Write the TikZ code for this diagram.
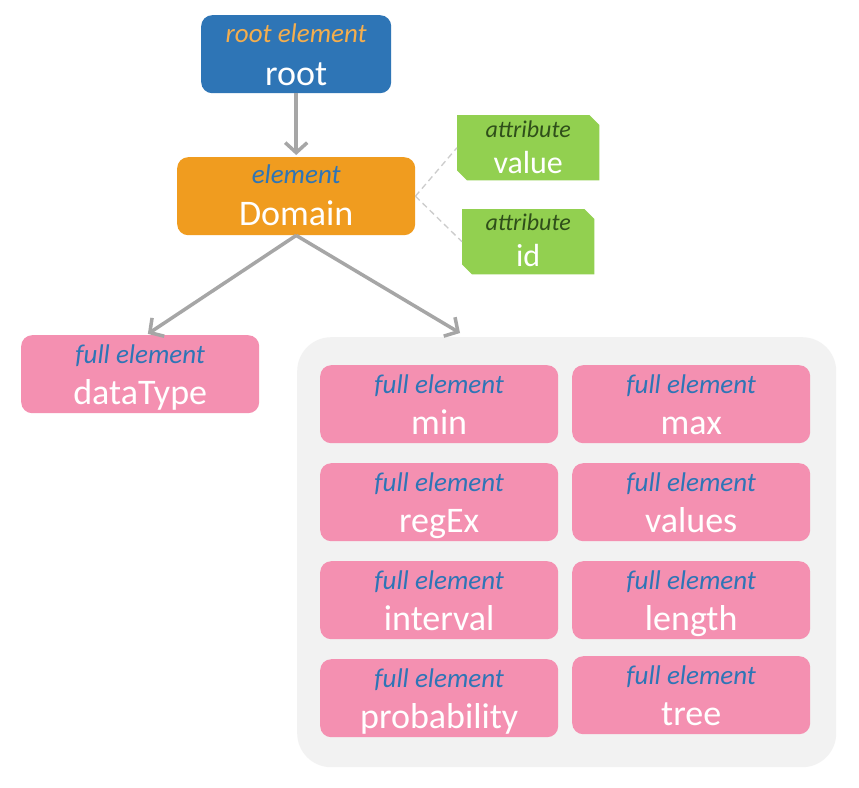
\documentclass[tikz,border=0pt]{standalone}
\usepackage{fontspec}
\setmainfont{Carlito}
\usetikzlibrary{arrows.meta,calc}
\definecolor{rootblue}{HTML}{2E75B6}
\definecolor{domorange}{HTML}{F09C1F}
\definecolor{attrgreen}{HTML}{92D050}
\definecolor{elpink}{HTML}{F490B1}
\definecolor{grpgray}{HTML}{F2F2F2}
\definecolor{arrgray}{HTML}{A6A6A6}
\definecolor{dashgray}{HTML}{CCCCCC}
\definecolor{subblue}{HTML}{2E75B6}
\definecolor{suborange}{HTML}{F4AE4E}
\definecolor{subgreen}{HTML}{2F4F1A}
\tikzset{
  ebox/.style={rounded corners=11pt, inner sep=0pt, anchor=north west, minimum width=238pt, minimum height=78pt},
  abox/.style={inner sep=0pt, minimum height=65pt, anchor=north west},
  subt/.style={font=\fontsize{27}{32}\selectfont\itshape, text=subblue, anchor=base, inner sep=0pt},
  maint/.style={font=\fontsize{36}{42}\selectfont, text=white, anchor=base, inner sep=0pt},
  asub/.style={font=\fontsize{24}{28}\selectfont\itshape, text=subgreen, anchor=base, inner sep=0pt},
  amain/.style={font=\fontsize{32}{38}\selectfont, text=white, anchor=base, inner sep=0pt},
  arr/.style={draw=arrgray, line width=3.5pt, -{Straight Barb[length=10pt,width=22pt,line width=3.5pt]}},
  dashln/.style={draw=dashgray, line width=1.3pt, dash pattern=on 6pt off 4pt}
}
\newcommand\felem[4]{%
  \node[ebox, fill=elpink] (#1) at (#2,#3) {};
  \node[subt] (#1s) at ($(#1.north)+(0,28)$) {full element};
  \node[maint] (#1m) at ($(#1.north)+(0,69)$) {#4};
}
\newcommand\snipfill[1]{%
  \fill[attrgreen] (#1.north west) -- ($(#1.north east)+(-10,0)$) -- ($(#1.north east)+(0,10)$)
    -- (#1.south east) -- ($(#1.south west)+(10,0)$) -- ($(#1.south west)+(0,-10)$) -- cycle;
}
\begin{document}
\begin{tikzpicture}[x=1pt,y=-1pt]
\useasboundingbox[fill=white] (0,0) rectangle (859,787);
% root
\node[ebox, fill=rootblue, minimum width=190pt, minimum height=78pt] (root) at (201,15) {};
\node[subt, text=suborange] (roots) at ($(root.north)+(0,27)$) {root element};
\node[maint] (rootm) at ($(root.north)+(0,70)$) {root};
% domain
\node[ebox, fill=domorange] (dom) at (177,157) {};
\node[subt] (doms) at ($(dom.north)+(0,26)$) {element};
\node[maint] (domm) at ($(dom.north)+(0,68)$) {Domain};
% attributes
\node[abox, minimum width=142pt] (val) at (457,115) {};
\snipfill{val}
\node[asub] (vals) at ($(val.north)+(0,22)$) {attribute};
\node[amain] (valm) at ($(val.north)+(0,58)$) {value};
\node[abox, minimum width=132pt] (idb) at (462,209) {};
\snipfill{idb}
\node[asub] (idbs) at ($(idb.north)+(0,21)$) {attribute};
\node[amain] (idbm) at ($(idb.north)+(0,57)$) {id};
\draw[dashln] (dom.east) -- (val.west);
\draw[dashln] (dom.east) -- (idb.west);
% dataType
\felem{dt}{21}{335}{dataType}
% group
\node[fill=grpgray, rounded corners=34pt, anchor=north west, inner sep=0pt, minimum width=539pt, minimum height=430pt] (grp) at (297,337) {};
\coordinate (gtip) at (460,333);
\felem{emin}{320}{365}{min}
\felem{emax}{572}{365}{max}
\felem{eregex}{320}{463}{regEx}
\felem{evalues}{572}{463}{values}
\felem{einterval}{320}{561}{interval}
\felem{elength}{572}{561}{length}
\felem{eprob}{320}{659}{probability}
\felem{etree}{572}{656}{tree}
% arrows
\draw[arr, shorten >=2pt] (root.south) -- (dom.north);
\draw[arr, shorten >=2pt] (dom.south) -- ($(dt.north)+(6,0)$);
\draw[arr] (dom.south) -- (gtip);
\end{tikzpicture}
\end{document}
